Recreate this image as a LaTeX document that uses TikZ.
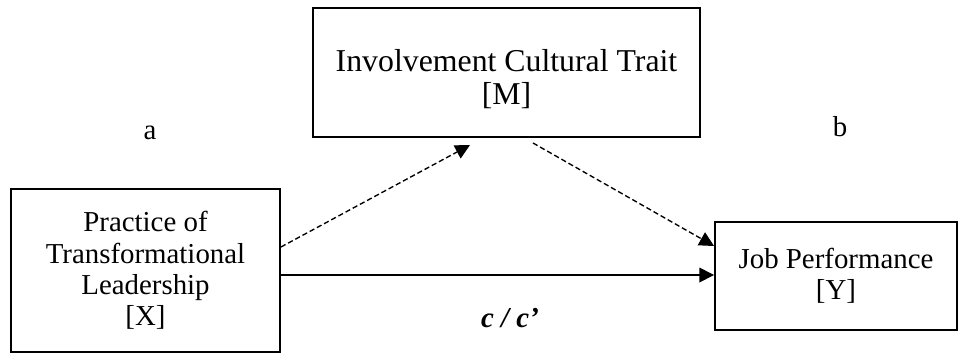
\documentclass[tikz,border=0pt]{standalone}
\usepackage{fontspec}
\setmainfont{Liberation Serif}
\usepackage{tikz}
\usetikzlibrary{arrows.meta,positioning}
\definecolor{ink}{HTML}{000000}

\begin{document}
\begin{tikzpicture}[
  x=0.0168cm, y=-0.0168cm, >={Triangle[length=7pt,width=7pt]},
  font=\fontsize{13.8}{15}\selectfont,
  varbox/.style={draw=ink, line width=0.9pt, align=center, inner sep=0pt},
  vartxt/.style={align=center, text=ink, inner sep=0pt},
  path/.style={draw=ink, line width=0.65pt, ->},
  indirect/.style={path, dash pattern=on 2.5pt off 1.4pt},
  coef/.style={text=ink}]

\useasboundingbox (0,0) rectangle (960,354);

% ================================================================ variables
\node[varbox, minimum width=269*0.0168cm, minimum height=163*0.0168cm] (X) at (145.5,270.5)
  {Practice of\\Transformational\\Leadership\\{}[X]};
\node[varbox, minimum width=387*0.0168cm, minimum height=129*0.0168cm] (M) at (506.5,72.5) {};
\node[vartxt, font=\fontsize{15.2}{15.6}\selectfont] (Mtext) at (506.5,79)
  {Involvement Cultural Trait\\{}[M]};
\node[varbox, minimum width=242*0.0168cm, minimum height=108*0.0168cm] (Y) at (836,276)
  {Job Performance\\{}[Y]};

% free ends of the paths through M
\coordinate (aEnd)   at (470,145);
\coordinate (bStart) at (533,143);

% ================================================================ paths
\draw[indirect] (X.east |- 0,247) -- (aEnd);
\draw[indirect] (bStart) -- (Y.west |- 0,246);
\draw[path] (X.east |- 0,275) -- (Y.west |- 0,275);

% ================================================================ coefficients
\node[coef] (lblA) at (150,133) {a};
\node[coef] (lblB) at (840,127) {b};
\node[coef, font=\fontsize{13.8}{15}\selectfont\bfseries\itshape] (lblC) at (510,318) {c / c’};

\end{tikzpicture}
\end{document}
